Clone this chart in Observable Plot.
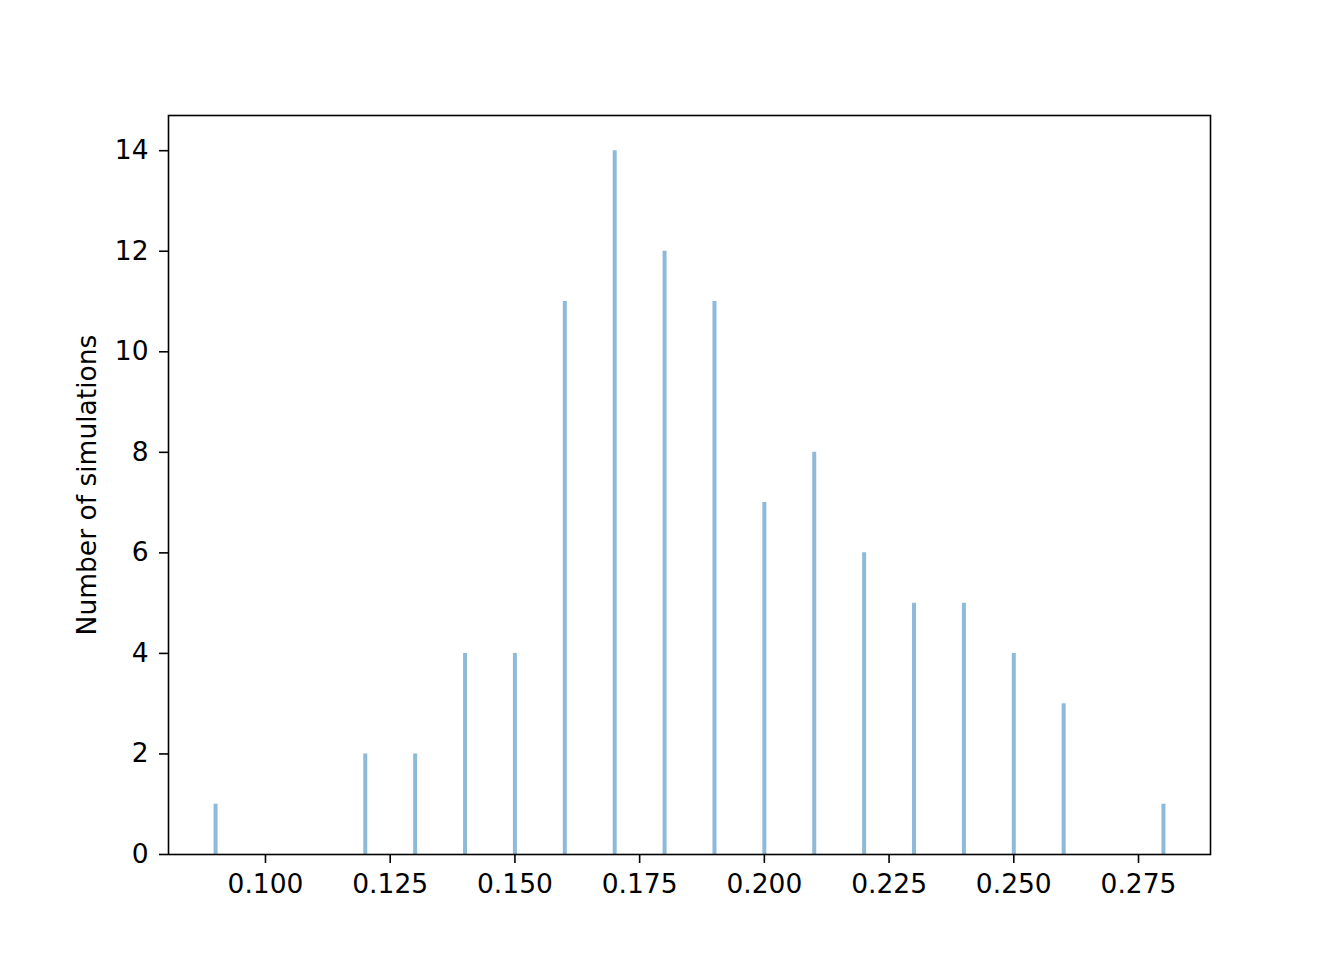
<!DOCTYPE html>
<html>
<head>
<meta charset="utf-8">
<script src="https://cdn.jsdelivr.net/npm/d3@7"></script>
<script src="https://cdn.jsdelivr.net/npm/@observablehq/plot@0.6"></script>
<style>
  html, body { margin: 0; padding: 0; background: #fff; }
  svg { display: block; }
</style>
</head>
<body>
<div id="chart"></div>
<script>
const values = [0.09, 0.12, 0.13, 0.14, 0.15, 0.16, 0.17, 0.18, 0.19, 0.20, 0.21, 0.22, 0.23, 0.24, 0.25, 0.26, 0.28];
const counts = [1, 2, 2, 4, 4, 11, 14, 12, 11, 7, 8, 6, 5, 5, 4, 3, 1];
const xTicks = [0.100, 0.125, 0.150, 0.175, 0.200, 0.225, 0.250, 0.275];
const yTicks = [0, 2, 4, 6, 8, 10, 12, 14];
const yLabel = "Number of simulations";

const data = values.map((v, i) => ({value: v, count: counts[i]}));

const chart = Plot.plot({
  width: 1344,
  height: 960,
  marginLeft: 168,
  marginRight: 134,
  marginTop: 115,
  marginBottom: 106,
  style: {fontFamily: "DejaVu Sans", fontSize: "26.5px", color: "#000", background: "#fff"},
  x: {domain: [0.08056, 0.28943], ticks: xTicks, tickFormat: d3.format(".3f"), label: null},
  y: {domain: [0, 14.7], ticks: yTicks, label: null},
  marks: [
    Plot.ruleX(data, {x: "value", y1: 0, y2: "count", stroke: "#8ebad9", strokeWidth: 4}),
    Plot.frame({stroke: "#000", strokeWidth: 1.6}),
    Plot.axisX({ticks: xTicks, tickFormat: d3.format(".3f"), tickSize: 9, tickPadding: 11, strokeWidth: 1.6, fontSize: 26.5, label: null}),
    Plot.axisY({ticks: yTicks, tickSize: 9, tickPadding: 11, strokeWidth: 1.6, fontSize: 26.5, label: yLabel, labelAnchor: "center", labelArrow: "none", labelOffset: 91})
  ]
});
document.getElementById("chart").appendChild(chart);
</script>
</body>
</html>
